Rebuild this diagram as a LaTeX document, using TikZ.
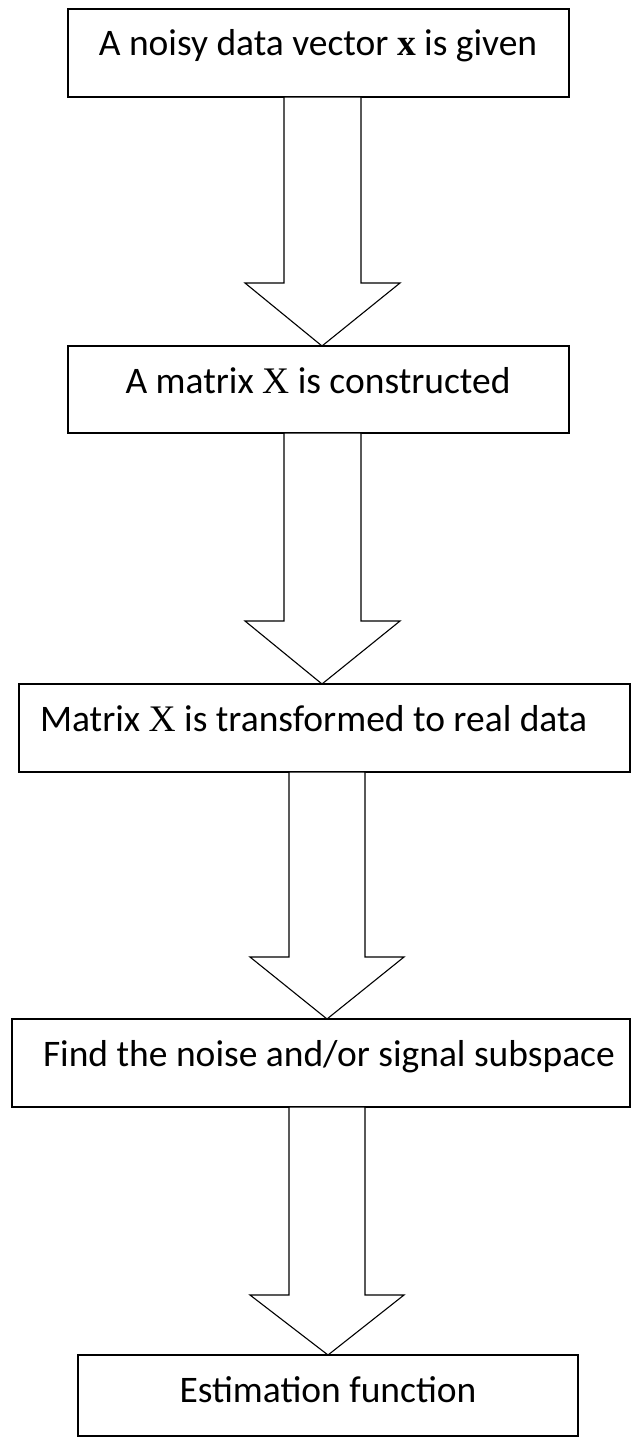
\documentclass[tikz,border=0pt]{standalone}
\usepackage{fontspec}
\setmainfont{Carlito}
\newfontfamily\tnr{Liberation Serif}
\begin{document}
\begin{tikzpicture}[x=1pt,y=-1pt,
  box/.style={draw=black,line width=1.2pt,rectangle,inner sep=0pt,outer sep=0pt},
  lbl/.style={inner sep=0pt,outer sep=0pt,font=\fontsize{37.5}{42}\selectfont},
  blockarrow/.style={draw=black,line width=1.1pt,fill=white,line join=miter}]
\useasboundingbox (0,0) rectangle (631,1437);
% boxes
\node[box,minimum width=501pt,minimum height=88pt] (b1) at (318.5,53) {};
\node[box,minimum width=501pt,minimum height=87pt] (b2) at (318.5,389.5) {};
\node[box,minimum width=611pt,minimum height=88pt] (b3) at (324.5,728) {};
\node[box,minimum width=618pt,minimum height=88pt] (b4) at (321,1063) {};
\node[box,minimum width=500pt,minimum height=81pt] (b5) at (328,1395.5) {};
% labels
\node[lbl,anchor=base] (t1) at (318,56) {A noisy data vector {\tnr\bfseries x} is given};
\node[lbl,anchor=base] (t2) at (318,393) {A matrix {\tnr X} is constructed};
\node[lbl,anchor=base west] (t3) at (40,731) {Matrix {\tnr X} is transformed to real data};
\node[lbl,anchor=base west] (t4) at (43,1066) {Find the noise and/or signal subspace};
\node[lbl,anchor=base] (t5) at (328,1402) {Estimation function};
% tips
\coordinate (p1) at (322,0 |- b2.north);
\coordinate (p2) at (322,0 |- b3.north);
\coordinate (p3) at (327,0 |- b4.north);
\coordinate (p4) at (328,0 |- b5.north);
% block arrows
\draw[blockarrow] (284,0 |- b1.south) -- (361,0 |- b1.south) -- (361,283) -- (400,283) -- (p1) -- (245,283) -- (284,283) -- cycle;
\draw[blockarrow] (284,0 |- b2.south) -- (361,0 |- b2.south) -- (361,621) -- (400,621) -- (p2) -- (245,621) -- (284,621) -- cycle;
\draw[blockarrow] (289,0 |- b3.south) -- (365,0 |- b3.south) -- (365,957) -- (404,957) -- (p3) -- (250,957) -- (289,957) -- cycle;
\draw[blockarrow] (289,0 |- b4.south) -- (365,0 |- b4.south) -- (365,1295) -- (404,1295) -- (p4) -- (250,1295) -- (289,1295) -- cycle;
\end{tikzpicture}
\end{document}
